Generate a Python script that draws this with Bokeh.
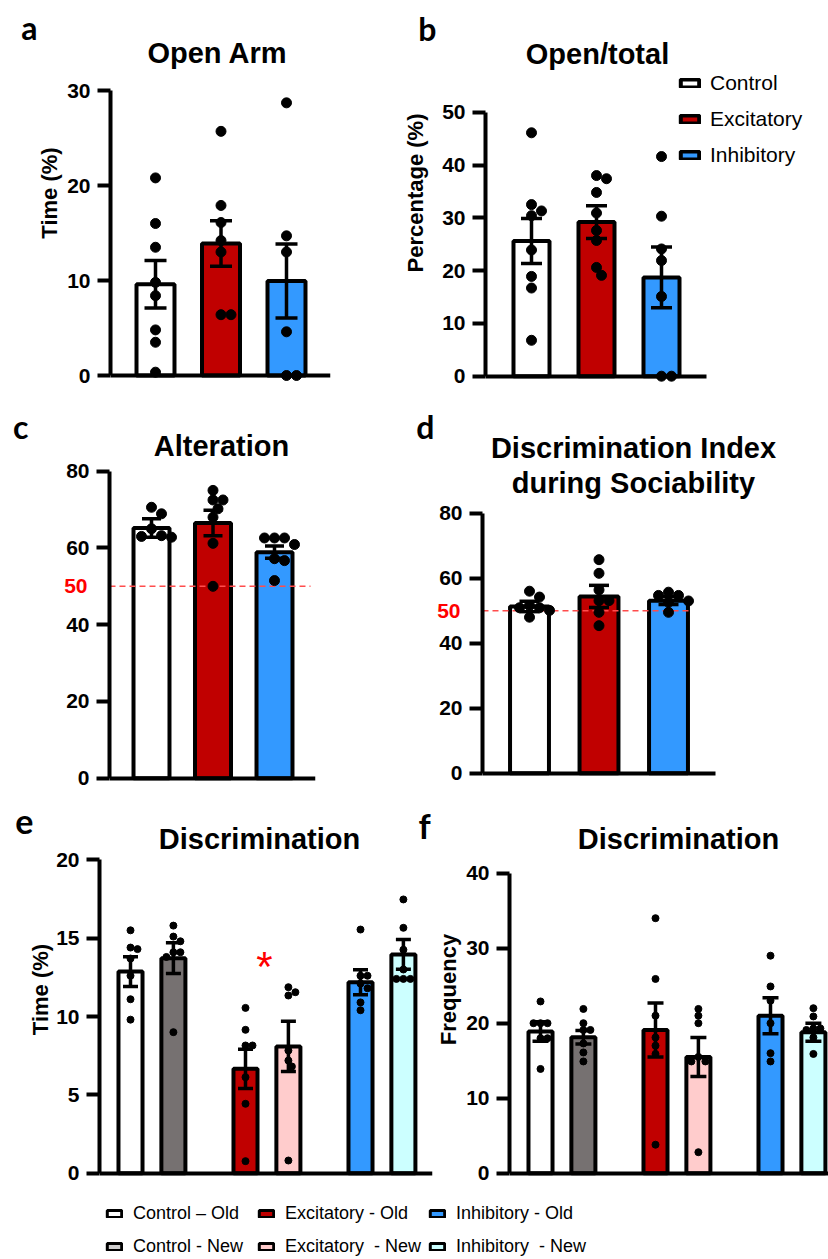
import math
from bokeh.plotting import figure
from bokeh.models import (Range1d, FixedTicker, Label, Whisker, TeeHead, LinearAxis,
                          ColumnDataSource, Legend, LegendItem, CustomJSTickFormatter)
from bokeh.layouts import column, row
from bokeh.embed import file_html
from bokeh.resources import INLINE

# ---------------- data ----------------
groups3 = ["Control", "Excitatory", "Inhibitory"]
colors3 = ["#FFFFFF", "#C00000", "#3399FF"]

a_mean = [9.6, 13.9, 9.95]
a_sem = [2.5, 2.4, 3.9]
a_pts = [[20.8, 16.0, 13.5, 9.8, 8.4, 4.8, 3.5, 0.35],
         [25.7, 17.9, 16.1, 14.2, 13.0, 6.4, 6.4],
         [28.7, 14.7, 13.0, 4.6, 0.0, 0.0]]

b_mean = [25.6, 29.2, 18.7]
b_sem = [4.25, 3.1, 5.75]
b_pts = [[46.1, 32.5, 31.3, 30.4, 23.9, 18.9, 16.7, 6.8],
         [38.0, 37.4, 34.8, 30.9, 27.6, 25.7, 20.6, 19.1],
         [41.6, 30.3, 24.1, 21.9, 15.1, 0.0, 0.0]]

c_mean = [65.2, 66.5, 58.9]
c_sem = [2.4, 3.3, 1.6]
c_pts = [[70.6, 68.9, 65.0, 63.2, 62.8, 63.0],
         [75.0, 72.5, 72.5, 70.2, 68.0, 61.2, 50.0],
         [62.6, 62.6, 62.6, 60.9, 57.2, 56.7, 51.5]]

d_mean = [51.3, 54.4, 53.1]
d_sem = [1.6, 3.4, 1.2]
d_pts = [[56.0, 54.2, 51.6, 50.9, 50.9, 50.1, 48.0],
         [65.7, 61.5, 56.4, 53.1, 53.1, 49.5, 45.4],
         [55.7, 54.7, 54.7, 53.0, 52.6, 49.5]]

chance_level = 50

groups6 = ["Control \u2013 Old", "Control - New", "Excitatory - Old",
           "Excitatory  - New", "Inhibitory - Old", "Inhibitory  - New"]
colors6 = ["#FFFFFF", "#767171", "#C00000", "#FFCCCC", "#3399FF", "#CCFFFF"]
legend6_colors = ["#FFFFFF", "#D0CECE", "#C00000", "#FFCCCC", "#3399FF", "#CCFFFF"]

e_mean = [12.87, 13.72, 6.66, 8.09, 12.19, 13.96]
e_sem = [0.95, 0.98, 1.25, 1.6, 0.8, 0.95]
e_pts = [[15.5, 14.4, 14.3, 13.7, 12.6, 11.1, 9.8],
         [15.8, 15.1, 14.8, 14.1, 14.1, 13.8, 9.0],
         [10.55, 9.15, 8.15, 8.15, 6.13, 4.43, 0.77],
         [11.87, 11.55, 11.34, 7.83, 7.19, 6.81, 0.81],
         [15.55, 12.6, 12.6, 12.1, 11.8, 10.9, 10.4],
         [17.47, 15.66, 14.26, 13.0, 12.4, 12.4, 12.4]]

f_mean = [18.9, 18.13, 19.1, 15.5, 21.0, 18.8]
f_sem = [1.3, 0.9, 3.6, 2.6, 2.4, 1.2]
f_pts = [[22.9, 20.0, 20.0, 20.0, 18.0, 18.0, 13.9],
         [21.9, 20.0, 19.1, 19.1, 17.3, 16.1, 14.9],
         [34.0, 25.9, 21.0, 18.1, 17.0, 15.9, 3.8],
         [21.9, 21.0, 20.0, 15.5, 14.9, 14.9, 2.8],
         [29.0, 24.9, 23.0, 20.0, 16.0, 14.9],
         [22.0, 20.9, 19.3, 19.3, 19.1, 18.1, 15.9]]

BOLD_FONT = "Liberation Sans"
LETTER_FONT = "Lato"


def swarm(vals, center, sx, sy, d):
    order = sorted(range(len(vals)), key=lambda i: -vals[i])
    placed = []
    xs = [0.0] * len(vals)
    cands = [0]
    for j in range(1, 30):
        cands += [j, -j]
    for i in order:
        py = vals[i] * sy
        px = 0.0
        for c in cands:
            px = c * d * 0.5
            if all((px - qx) ** 2 + (py - qy) ** 2 >= (0.92 * d) ** 2 for qx, qy in placed):
                break
        placed.append((px, py))
        xs[i] = center + px / sx
    return xs


class Geo:
    """pixel geometry of one panel (layout positions only)"""
    def __init__(self, fig_l, fig_r, fr_l, fr_r, row_t, row_b, fr_b, c0, ppx, zero, ppy):
        self.__dict__.update(locals())
        self.xs = (fr_l - c0) / ppx
        self.xe = (fr_r - c0) / ppx
        self.ys = -(fr_b - zero) / ppy
        self.ye = (zero - row_t) / ppy

    def xdata(self, px):
        return (px - self.c0) / self.ppx

    def ydata(self, py):
        return (self.zero - py) / self.ppy


def make_panel(g, ticks, ylabel, lab_standoff, xbound_r=None):
    p = figure(frame_width=g.fr_r - g.fr_l, frame_height=g.fr_b - g.row_t,
               min_border_left=g.fr_l - g.fig_l, min_border_right=g.fig_r - g.fr_r,
               min_border_top=0, min_border_bottom=g.row_b - g.fr_b,
               x_range=Range1d(g.xs, g.xe), y_range=Range1d(g.ys, g.ye),
               output_backend="svg", toolbar_location=None)
    try:
        p.title = None
    except Exception:
        p.title.visible = False
    p.outline_line_color = None
    p.grid.visible = False
    p.background_fill_color = "white"
    p.border_fill_color = "white"
    xa = p.xaxis[0]
    xa.fixed_location = 0
    xa.ticker = FixedTicker(ticks=[])
    xa.major_tick_line_color = None
    xa.minor_tick_line_color = None
    xa.major_tick_out = 0
    xa.major_tick_in = 0
    xa.major_label_standoff = 0
    xa.axis_line_width = 4
    xa.axis_line_color = "black"
    xa.bounds = (g.xs, g.xdata(xbound_r) if xbound_r is not None else g.xe)
    ya = p.yaxis[0]
    ya.ticker = FixedTicker(ticks=ticks)
    ya.bounds = (0, ticks[-1])
    ya.minor_tick_line_color = None
    ya.major_tick_out = 13
    ya.major_tick_in = 0
    ya.major_tick_line_width = 4
    ya.major_tick_line_color = "black"
    ya.axis_line_width = 4
    ya.axis_line_color = "black"
    ya.major_label_text_font = BOLD_FONT
    ya.major_label_text_font_style = "bold"
    ya.major_label_text_font_size = "21px"
    ya.major_label_text_color = "black"
    ya.major_label_standoff = 7
    ya.axis_label = ylabel if ylabel else None
    ya.axis_label_text_font = BOLD_FONT
    ya.axis_label_text_font_style = "bold"
    ya.axis_label_text_font_size = "22px"
    ya.axis_label_text_color = "black"
    ya.axis_label_standoff = lab_standoff
    return p


def side_text(p, g, text, standoff, y_px, font, size, color="black", side="left"):
    """one text set beside the frame through a label-only axis stacked in a side panel"""
    ax = LinearAxis(ticker=FixedTicker(ticks=[g.ydata(y_px)]),
                    formatter=CustomJSTickFormatter(code="return %r;" % text),
                    axis_line_color=None, major_tick_line_color=None, minor_tick_line_color=None,
                    major_tick_out=0, major_tick_in=0, major_label_standoff=standoff,
                    major_label_text_font=font, major_label_text_font_style="bold",
                    major_label_text_font_size=size, major_label_text_color=color)
    p.add_layout(ax, side)


def add_bars(p, g, xpos, means, sems, pts, colors, bar_w, dot, cap, lw=4, chance_right=None):
    src = ColumnDataSource(dict(x=xpos, top=means, color=colors,
                                upper=[m + s for m, s in zip(means, sems)],
                                lower=[m - s for m, s in zip(means, sems)]))
    bars = p.vbar(x="x", top="top", bottom=0, width=bar_w, source=src,
                  fill_color="color", line_color="black", line_width=lw)
    if chance_right is not None:
        p.segment(x0=[g.xs], x1=[g.xdata(chance_right)], y0=[chance_level], y1=[chance_level],
                  line_color="#FF4D4D", line_dash="6 4", line_width=1.5)
    w = Whisker(source=src, base="x", upper="upper", lower="lower",
                line_color="black", line_width=3.5, level="annotation",
                upper_head=TeeHead(size=cap, line_width=3.5, line_color="black"),
                lower_head=TeeHead(size=cap, line_width=3.5, line_color="black"))
    p.add_layout(w)
    dx, dy = [], []
    for xc, vals in zip(xpos, pts):
        dx += swarm(vals, xc, g.ppx, g.ppy, dot)
        dy += list(vals)
    p.scatter(x=dx, y=dy, size=dot, color="black", marker="circle", level="overlay")
    return bars


def txt(p, g, ix, iy, text, size, font=BOLD_FONT, style="bold", color="black",
        align="center", baseline="middle"):
    p.add_layout(Label(x=ix - g.fr_l, y=g.fr_b - iy, x_units="screen", y_units="screen", text=text,
                       text_font=font, text_font_style=style, text_font_size=size,
                       text_color=color, text_align=align, text_baseline=baseline))


# ---------------- panel a ----------------
ga = Geo(0, 400, 110, 330, 0, 400, 385, 155, 65.5, 375, 9.5)
fa = make_panel(ga, [0, 10, 20, 30], "Time (%)", 2)
add_bars(fa, ga, [0, 1, 2], a_mean, a_sem, a_pts, colors3, 0.58, 10, 22)
txt(fa, ga, 221, 52, "Open  Arm", "29px")
side_text(fa, ga, "a", -3, 27, LETTER_FONT, "32px")

# ---------------- panel b ----------------
gb = Geo(400, 827, 484, 827, 0, 400, 385, 530, 65, 375.7, 5.28)
fb = make_panel(gb, [0, 10, 20, 30, 40, 50], "Percentage (%)", 11, xbound_r=705)
bbars = add_bars(fb, gb, [0, 1, 2], b_mean, b_sem, b_pts, colors3, 0.554, 10, 21)
txt(fb, gb, 596, 53, "Open/total", "29px")
side_text(fb, gb, "b", -36, 28, LETTER_FONT, "32px")
leg_b = Legend(items=[LegendItem(label=g, renderers=[bbars], index=i) for i, g in enumerate(groups3)],
               location=(193, 218), glyph_width=23, glyph_height=10, label_height=24,
               spacing=12, padding=0, margin=0, label_standoff=9, border_line_color=None,
               background_fill_alpha=0, label_text_font="Liberation Sans",
               label_text_font_size="21px", label_text_color="black")
fb.add_layout(leg_b)

# ---------------- panel c ----------------
gc = Geo(0, 400, 109, 315, 400, 800, 788, 151, 61.5, 777.7, 3.8375)
fc = make_panel(gc, [0, 20, 40, 60, 80], "", 8)
add_bars(fc, gc, [0, 1, 2], c_mean, c_sem, c_pts, colors3, 0.585, 10, 19, chance_right=310)
side_text(fc, gc, str(chance_level), -24, gc.zero - chance_level * gc.ppy, BOLD_FONT, "21px",
          color="#FF0000")
txt(fc, gc, 221, 445, "Alteration", "29px")
side_text(fc, gc, "c", 33, 426, LETTER_FONT, "32px")

# ---------------- panel d ----------------
gd = Geo(400, 827, 482, 827, 400, 800, 788, 529, 69.5, 772.7, 3.25)
fd = make_panel(gd, [0, 20, 40, 60, 80], "", 8, xbound_r=715)
add_bars(fd, gd, [0, 1, 2], d_mean, d_sem, d_pts, colors3, 0.56, 10, 20, chance_right=692)
side_text(fd, gd, str(chance_level), -24, gd.zero - chance_level * gd.ppy, BOLD_FONT, "21px",
          color="#FF0000")
txt(fd, gd, 633, 447, "Discrimination Index", "29px")
txt(fd, gd, 633, 482, "during Sociability", "29px")
side_text(fd, gd, "d", 0, 426, LETTER_FONT, "32px")

# ---------------- panel e ----------------
pos6 = [0, 0.373, 1, 1.373, 2, 2.373]
ge = Geo(0, 432, 99, 432, 800, 1185, 1178, 130, 115, 1172.7, 15.67)
fe = make_panel(ge, [0, 5, 10, 15, 20], "Time (%)", 0)
add_bars(fe, ge, pos6, e_mean, e_sem, e_pts, colors6, 0.209, 7, 15)
txt(fe, ge, 259, 838, "Discrimination", "29px")
side_text(fe, ge, "e", -8, 821, LETTER_FONT, "34px")
side_text(fe, ge, "f", -14, 825, LETTER_FONT, "34px", side="right")
txt(fe, ge, 264, 966, "*", "42px", font="Liberation Sans", style="normal",
    color="#FF0000", baseline="alphabetic")

# ---------------- panel f ----------------
gf = Geo(432, 827, 502, 827, 800, 1185, 1178, 533, 115, 1172.7, 7.5)
ff = make_panel(gf, [0, 10, 20, 30, 40], "Frequency", 2)
add_bars(ff, gf, pos6, f_mean, f_sem, f_pts, colors6, 0.209, 7, 16)
txt(ff, gf, 671, 838, "Discrimination", "29px")

# ---------------- bottom legend ----------------
fl = figure(width=827, height=72, min_border=0, x_axis_type=None, y_axis_type=None,
            x_range=Range1d(0, 1), y_range=Range1d(0, 1),
            output_backend="svg", toolbar_location=None)
try:
    fl.title = None
except Exception:
    pass
fl.outline_line_color = None
fl.grid.visible = False
lrs = []
for c in legend6_colors:
    lrs.append(fl.vbar(x=[math.nan], top=[math.nan], width=0.1, fill_color=c,
                       line_color="black", line_width=3))
for k, vx in enumerate([105, 257, 428]):
    items = [LegendItem(label=groups6[2 * k + j], renderers=[lrs[2 * k + j]]) for j in range(2)]
    lg = Legend(items=items, location=(vx, 0), glyph_width=18, glyph_height=9, label_height=22,
                spacing=11, padding=0, margin=0, label_standoff=10, border_line_color=None,
                background_fill_alpha=0, label_text_font="Liberation Sans",
                label_text_font_size="18px", label_text_color="black")
    fl.add_layout(lg)

layout = column(row(fa, fb), row(fc, fd), row(fe, ff), fl)
open("out.html", "w").write(file_html(layout, INLINE))
